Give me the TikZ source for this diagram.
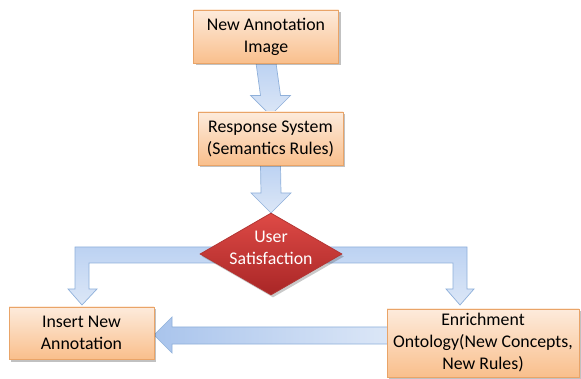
\documentclass[tikz,border=0pt]{standalone}
\usepackage{fontspec}
\setmainfont{Carlito}
\usetikzlibrary{calc,shapes.geometric,shadows}
\definecolor{boxtop}{HTML}{FDEBDC}
\definecolor{boxbot}{HTML}{F9BF8C}
\definecolor{boxline}{HTML}{E9A468}
\definecolor{arrdark}{HTML}{A9C4EC}
\definecolor{arrmid}{HTML}{BCD2F2}
\definecolor{arrlight}{HTML}{DCE7F7}
\definecolor{arrline}{HTML}{8FB0DA}
\definecolor{diatop}{HTML}{DE4A46}
\definecolor{diabot}{HTML}{A92626}
\definecolor{dialine}{HTML}{B33634}
\tikzset{
  stepbox/.style={draw=boxline, line width=0.8pt, top color=boxtop, bottom color=boxbot,
    drop shadow={shadow xshift=2pt, shadow yshift=-2.5pt, opacity=0.35, fill=black!70},
    align=center, inner sep=0pt, font=\fontsize{17.8}{22}\selectfont},
  blockarrow/.style={draw=arrline, line width=0.7pt, top color=arrmid, bottom color=arrlight, line join=miter},
  sidearrow/.style={draw=arrline, line width=0.7pt, left color=arrdark, right color=arrlight, line join=miter},
  decision/.style={diamond, aspect=1.73, draw=dialine, line width=0.8pt, top color=diatop, bottom color=diabot,
    inner sep=0pt, minimum width=142pt, minimum height=82pt,
    drop shadow={shadow xshift=2pt, shadow yshift=-2.5pt, opacity=0.3, fill=black!70}},
  decisiontext/.style={text=white, align=center, font=\fontsize{17.8}{22}\selectfont}
}
\begin{document}
\begin{tikzpicture}[x=1pt,y=-1pt]
\useasboundingbox (0,0) rectangle (581,379);

% node placement (centres)
\coordinate (c1) at (266,36.5);
\coordinate (c2) at (270.5,138.5);
\coordinate (cd) at (271,254);
\coordinate (c3) at (81.5,333);
\coordinate (c4) at (483,343);

% block arrows go underneath the boxes
\path[blockarrow]
  ($(c1)+(-10,26.5)$) -- ($(c2)+(-10,-43)$) -- ($(c2)+(-20,-43)$) -- ($(c2)+(0,-23)$)
  -- ($(c2)+(20,-43)$) -- ($(c2)+(10,-43)$) -- ($(c1)+(10,26.5)$) -- cycle;
\path[blockarrow]
  ($(c2)+(-10,26.5)$) -- ($(cd)+(-10,-61)$) -- ($(cd)+(-20,-61)$) -- ($(cd)+(0,-41)$)
  -- ($(cd)+(20,-61)$) -- ($(cd)+(10,-61)$) -- ($(c2)+(10,26.5)$) -- cycle;
% left branch
\path[blockarrow]
  ($(cd)+(0,-7)$) -- (75,247) -- (75,289) -- (68,289) -- (82,305) -- (97,289) -- (89,289)
  -- (89,263) -- ($(cd)+(0,9)$) -- cycle;
% right branch
\path[blockarrow]
  ($(cd)+(0,-7)$) -- (467,247) -- (467,289) -- (474,289) -- (460,305) -- (446,289) -- (453,289)
  -- (453,263) -- ($(cd)+(0,9)$) -- cycle;
% bottom return arrow
\path[sidearrow]
  (390,327) -- (172,327) -- (172,317) -- (154,335) -- (172,353) -- (172,344) -- (390,344) -- cycle;

% boxes
\node[stepbox, minimum width=145pt, minimum height=53pt] (n1) at (c1) {New Annotation\\Image};
\node[stepbox, minimum width=145pt, minimum height=53pt] (n2) at (c2) {Response System\\(Semantics Rules)};
\node[decision] (dia) at (cd) {};
\node[decisiontext] (dialabel) at ($(cd)+(0,-6)$) {User\\Satisfaction};
\node[stepbox, minimum width=145pt, minimum height=52pt] (ins) at (c3) {Insert New\\Annotation};
\node[stepbox, minimum width=192pt, minimum height=68pt] (enr) at (c4) {Enrichment\\Ontology(New Concepts,\\New Rules)};
\end{tikzpicture}
\end{document}
